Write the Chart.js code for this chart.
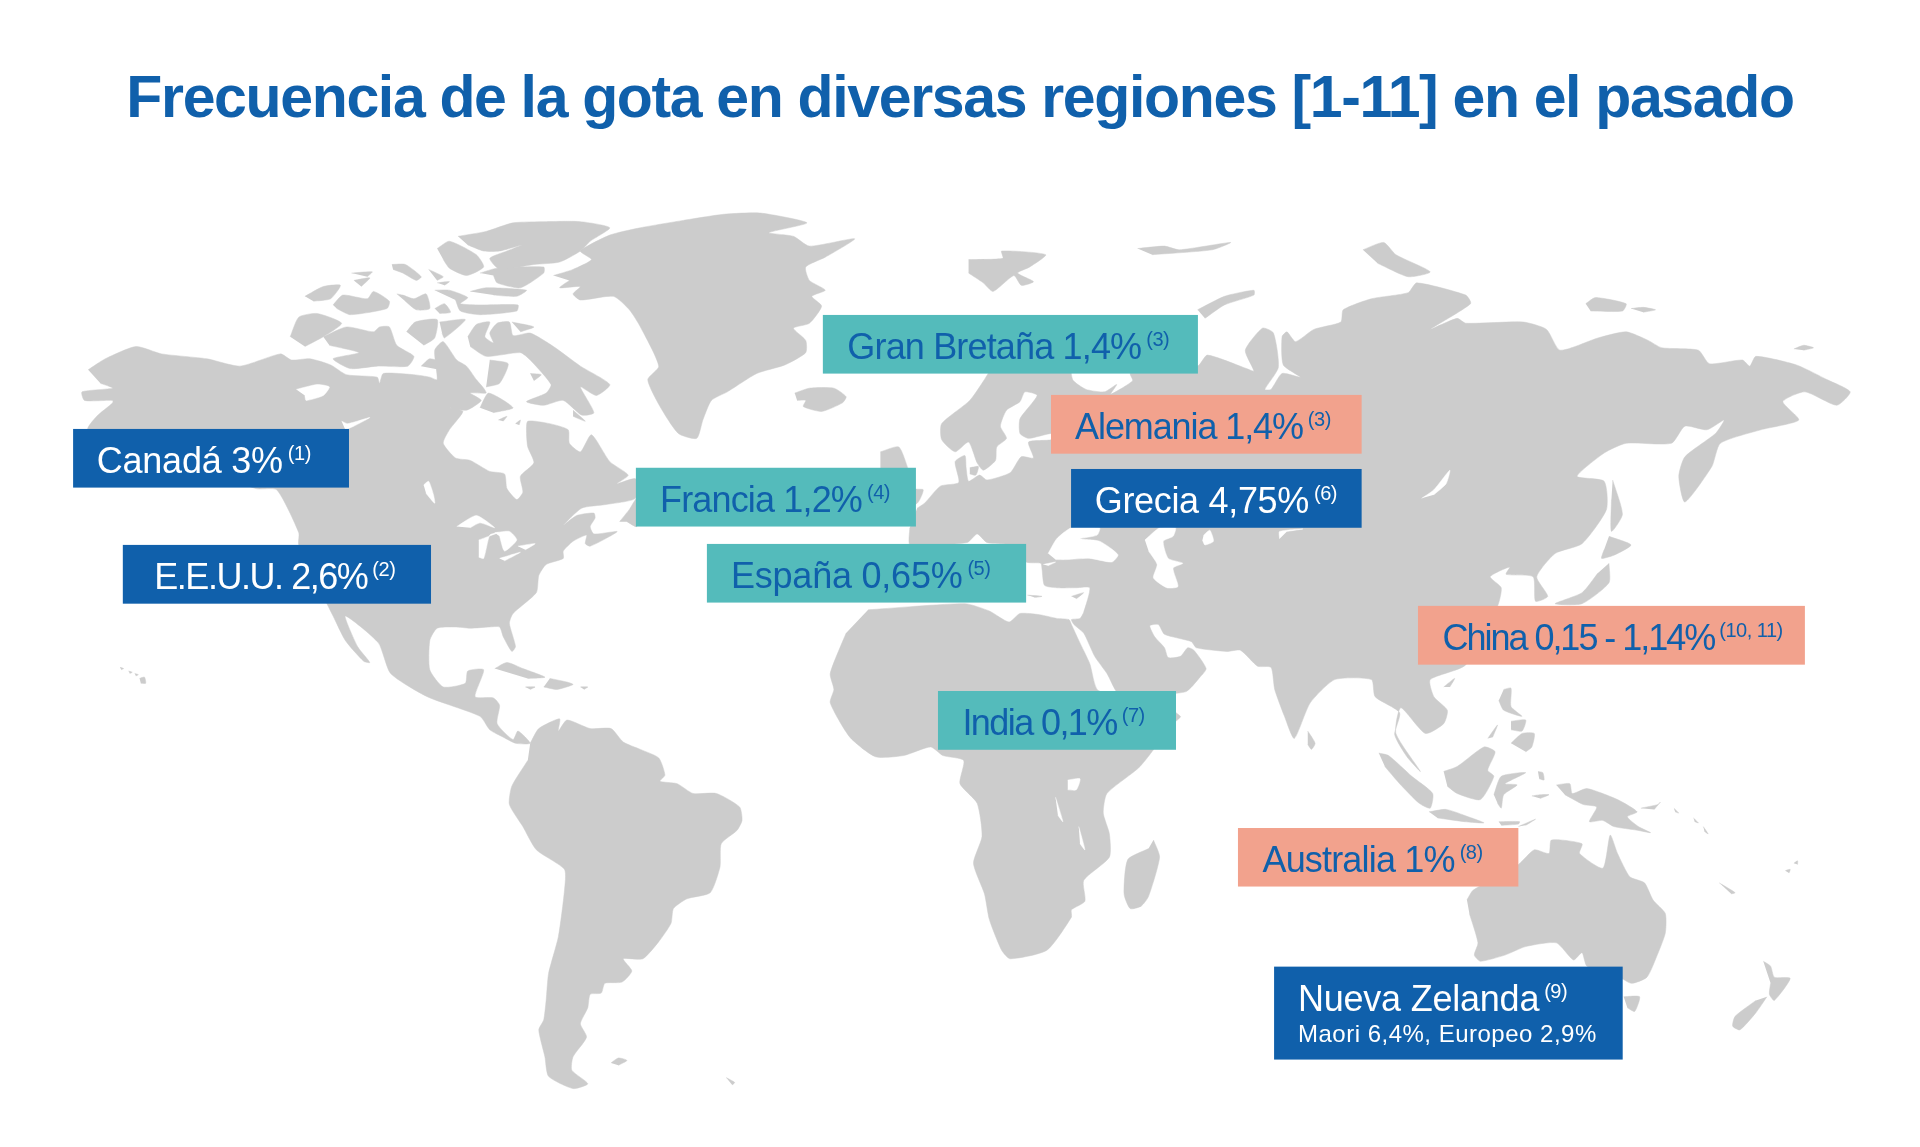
<!DOCTYPE html>
<html>
<head>
<meta charset="utf-8">
<title>Frecuencia de la gota</title>
<script src="https://cdn.jsdelivr.net/npm/chart.js@4"></script>
<style>
  html, body { margin: 0; padding: 0; background: #fff; }
  canvas { display: block; }
</style>
</head>
<body>
<canvas id="mapChart" width="1920" height="1147"></canvas>
<script>
// labels
const chartTitle = 'Frecuencia de la gota en diversas regiones [1-11] en el pasado';
const regionNames = ['Canadá', 'E.E.U.U.', 'Gran Bretaña', 'Alemania', 'Francia', 'Grecia', 'España', 'China', 'India', 'Australia', 'Nueva Zelanda'];
const regionRates = ['3%', '2,6%', '1,4%', '1,4%', '1,2%', '4,75%', '0,65%', '0,15 - 1,14%', '0,1%', '1%', ''];
const regionRefs = ['(1)', '(2)', '(3)', '(3)', '(4)', '(6)', '(5)', '(10, 11)', '(7)', '(8)', '(9)'];
const maoriLine = 'Maori 6,4%, Europeo 2,9%';

// map outlines, in map units
const northAmerica = [[72,302],[86,293],[111,283],[132,289],[169,293],[196,299],[229,289],[238,294],[253,293],[270,298],[283,306],[308,308],[310,313],[313,305],[338,306],[351,308],[357,310],[355,286],[362,279],[373,294],[381,299],[389,310],[395,317],[397,321],[384,321],[393,327],[381,335],[367,333],[378,336],[367,351],[362,362],[372,374],[384,376],[400,385],[412,387],[414,399],[422,408],[427,402],[425,389],[436,378],[431,365],[430,354],[431,344],[449,346],[464,351],[465,362],[474,369],[483,355],[498,377],[513,388],[504,395],[519,391],[519,407],[495,412],[475,415],[460,429],[471,421],[485,419],[486,423],[482,430],[485,436],[504,434],[498,438],[482,446],[478,444],[479,437],[468,442],[460,450],[460,456],[446,461],[440,470],[438,484],[419,501],[416,509],[421,528],[418,532],[411,520],[408,512],[400,512],[384,513],[372,512],[357,513],[351,523],[351,547],[362,561],[380,558],[382,548],[395,547],[388,569],[403,570],[408,576],[406,591],[419,604],[423,597],[433,607],[421,607],[411,602],[400,596],[392,585],[349,569],[319,550],[309,525],[282,503],[292,528],[302,541],[297,540],[282,523],[272,503],[267,493],[244,445],[244,435],[226,400],[209,399],[72,351],[79,340],[92,329],[92,327],[69,327],[67,320],[92,317],[82,313]];
const newfoundland = [[506,426],[514,416],[520,407],[520,430],[512,426]];
const baffin = [[382,275],[389,265],[400,263],[396,275],[403,280],[400,272],[406,264],[416,263],[419,274],[433,272],[452,283],[474,299],[498,314],[487,323],[474,316],[485,337],[475,339],[460,327],[444,331],[430,328],[446,321],[450,314],[433,294],[425,288],[397,291],[384,283]];
const bylot = [[418,263],[436,267],[425,271]];
const foxeIsland = [[433,305],[442,306],[436,311]];
const baffinTail = [[468,335],[478,344],[468,340]];
const victoriaIsland = [[264,275],[283,267],[305,271],[310,267],[318,267],[324,282],[338,291],[333,299],[308,299],[286,301],[272,293],[293,288],[269,282]];
const banksIsland = [[237,275],[244,259],[259,256],[279,264],[264,275],[249,283]];
const princeWales = [[332,271],[339,263],[357,261],[355,276],[346,282]];
const somerset = [[359,263],[380,261],[363,276],[361,272]];
const kingWilliam = [[344,299],[351,293],[363,297],[359,302]];
const southampton = [[392,333],[399,321],[419,333],[403,337]];
const melvillePen = [[400,294],[415,297],[408,313],[397,316]];
const coats = [[407,343],[414,340],[411,344]];
const mansel = [[421,346],[425,343],[424,347]];
const parryA = [[249,242],[264,234],[278,233],[270,244],[256,246]];
const melvilleIs = [[272,249],[280,241],[300,244],[305,238],[318,246],[316,252],[286,257],[275,252]];
const ellefA = [[287,223],[304,222],[300,226]];
const ellefB = [[289,229],[302,227],[295,234]];
const amundA = [[320,216],[331,216],[344,226],[340,229],[329,223],[321,220]];
const amundB = [[350,220],[362,226],[357,229]];
const amundC = [[357,231],[367,230],[363,233]];
const bathurst = [[324,240],[329,241],[338,244],[348,240],[351,252],[340,253],[331,246]];
const devon = [[355,237],[367,237],[382,243],[376,248],[392,249],[423,249],[422,254],[392,257],[376,254],[372,245]];
const cornwallis = [[355,252],[363,248],[368,255],[359,256]];
const ellesmereNorth = [[374,193],[397,189],[419,182],[446,181],[474,181],[498,186],[482,197],[474,205],[457,214],[436,216],[408,220],[400,211],[414,205],[426,200],[408,205],[395,205],[382,200]];
const axelHeiberg = [[357,203],[367,197],[389,208],[395,218],[381,225],[367,219],[362,212]];
const ellesmereMid = [[392,223],[406,219],[444,218],[444,223],[425,235],[406,231],[403,225]];
const ellesmereLow = [[384,238],[397,235],[430,237],[422,242],[403,241]];
const greenland = [[452,225],[468,220],[483,212],[474,205],[498,192],[523,186],[558,180],[591,175],[621,174],[659,182],[628,190],[648,193],[661,201],[698,195],[674,210],[658,218],[661,229],[674,237],[663,242],[671,250],[661,264],[648,268],[658,278],[658,288],[641,298],[618,305],[594,320],[581,327],[574,343],[569,358],[554,354],[539,332],[529,310],[538,299],[523,267],[514,253],[501,242],[474,245],[468,240],[474,234],[457,235],[465,229]];
const iceland = [[649,321],[661,317],[681,317],[691,324],[688,329],[671,336],[656,332],[658,327],[651,327]];
const svalbard = [[791,212],[819,211],[818,205],[854,208],[841,218],[831,223],[844,230],[834,233],[828,225],[811,238],[803,231],[791,223]];
const franzJosef = [[929,203],[951,201],[963,204],[1005,198],[990,204],[941,208]];
const severnaya = [[1113,204],[1130,198],[1140,208],[1168,222],[1150,226],[1125,215]];
const novayaZemlya = [[978,253],[1000,242],[1024,237],[1024,241],[1000,249],[984,260]];
const greatBritain = [[719,369],[734,365],[742,384],[747,399],[754,400],[749,411],[725,420],[719,400]];
const zealand = [[792,382],[799,381],[797,388],[792,387]];
const eurasia = [[749,415],[755,411],[768,397],[783,394],[780,377],[788,372],[789,382],[791,393],[800,388],[806,392],[825,386],[834,373],[844,374],[840,361],[859,359],[859,354],[840,358],[833,354],[833,342],[847,323],[837,320],[833,328],[822,335],[817,348],[822,358],[814,365],[813,376],[803,384],[798,378],[791,361],[780,369],[769,359],[769,346],[792,327],[807,305],[820,280],[870,280],[876,310],[887,318],[902,320],[912,314],[907,322],[925,311],[923,305],[935,290],[960,290],[978,299],[986,290],[1018,301],[1024,303],[1017,286],[1031,268],[1040,272],[1044,300],[1033,318],[1038,318],[1047,305],[1062,308],[1048,298],[1047,275],[1051,271],[1058,279],[1073,269],[1095,263],[1097,253],[1120,244],[1150,239],[1157,231],[1197,241],[1201,248],[1168,269],[1190,260],[1197,264],[1244,263],[1263,269],[1274,286],[1305,276],[1328,271],[1346,278],[1357,284],[1387,286],[1396,297],[1423,294],[1429,299],[1434,291],[1467,298],[1492,310],[1511,320],[1500,331],[1474,320],[1456,328],[1469,343],[1438,351],[1405,362],[1398,381],[1376,410],[1371,389],[1376,373],[1401,354],[1408,343],[1394,351],[1376,348],[1365,362],[1328,362],[1310,370],[1288,389],[1310,393],[1312,416],[1292,444],[1270,452],[1255,471],[1264,487],[1254,491],[1252,471],[1230,469],[1233,463],[1217,471],[1226,480],[1223,495],[1197,543],[1168,555],[1171,569],[1182,580],[1179,591],[1164,599],[1144,578],[1140,599],[1160,630],[1149,618],[1139,600],[1143,582],[1123,569],[1120,555],[1090,555],[1070,574],[1057,603],[1049,585],[1041,563],[1038,545],[1027,544],[1013,531],[1002,532],[977,529],[973,524],[951,518],[946,510],[939,511],[943,520],[951,529],[954,537],[964,536],[970,529],[975,531],[985,546],[980,553],[968,565],[915,568],[904,550],[894,536],[885,517],[877,510],[875,506],[882,505],[885,500],[890,480],[879,480],[863,480],[853,478],[851,465],[850,460],[838,459],[825,445],[806,443],[798,436],[790,443],[760,445],[743,445],[743,431]];
const crete = [[839,486],[851,487],[845,488]];
const cyprus = [[875,487],[885,484],[879,489]];
const africa = [[709,498],[788,493],[808,499],[824,508],[833,501],[849,502],[863,505],[873,506],[875,510],[881,523],[890,542],[897,564],[940,570],[964,585],[958,591],[931,626],[904,648],[901,664],[906,681],[906,700],[885,719],[886,736],[875,743],[875,749],[855,776],[825,783],[818,776],[808,751],[804,730],[795,705],[802,683],[798,656],[784,640],[787,621],[770,617],[760,610],[738,617],[715,618],[694,602],[678,574],[681,563],[678,550],[691,517]];
const madagascar = [[942,686],[947,700],[938,732],[932,740],[923,742],[918,730],[921,702],[938,693]];
const sriLanka = [[1068,597],[1074,607],[1071,612],[1068,608]];
const southAmerica = [[433,607],[440,595],[457,587],[456,597],[463,588],[482,595],[499,595],[509,606],[523,612],[538,619],[543,633],[539,638],[553,640],[566,648],[585,648],[604,659],[606,670],[602,678],[589,689],[588,708],[580,729],[561,734],[550,742],[548,754],[538,769],[525,783],[509,783],[516,793],[508,802],[494,803],[491,811],[482,812],[480,823],[474,836],[479,847],[468,863],[467,874],[480,885],[468,889],[448,879],[445,863],[440,841],[444,833],[446,817],[448,795],[456,765],[461,727],[461,710],[438,694],[427,675],[416,657],[418,642],[431,621]];
const falklands = [[499,868],[505,864],[512,866],[505,870]];
const southGeorgia = [[593,880],[600,884],[598,886]];
const cuba = [[404,546],[414,541],[427,546],[445,553],[431,554]];
const hispaniola = [[449,554],[463,557],[468,559],[455,563],[444,561]];
const jamaica = [[429,561],[437,561],[433,563]];
const puertoRico = [[474,561],[480,561],[477,563]];
const hawaiiBig = [[114,554],[118,553],[119,558],[115,558]];
const hawaiiA = [[98,545],[101,546],[99,547]];
const hawaiiB = [[105,548],[108,549],[106,550]];
const hawaiiC = [[110,550],[113,551],[111,552]];
const sakhalin = [[1317,392],[1325,420],[1316,434],[1316,408]];
const hokkaido = [[1314,438],[1332,445],[1319,453],[1308,456],[1310,449]];
const honshu = [[1314,460],[1314,476],[1292,493],[1270,493],[1292,484],[1305,468]];
const taiwan = [[1179,561],[1188,554],[1184,561]];
const luzon = [[1228,563],[1234,562],[1234,577],[1243,585],[1228,580],[1224,572]];
const visayas = [[1234,589],[1246,588],[1243,597],[1234,596]];
const mindanao = [[1234,607],[1243,599],[1253,599],[1251,610],[1246,614]];
const palawan = [[1215,603],[1223,592],[1219,602]];
const sumatra = [[1126,615],[1134,617],[1153,634],[1170,648],[1168,660],[1159,656],[1143,640],[1131,626]];
const borneo = [[1179,630],[1190,626],[1212,610],[1221,614],[1215,629],[1220,634],[1209,653],[1190,648],[1182,642]];
const sulawesi = [[1220,649],[1226,634],[1246,631],[1229,640],[1239,641],[1228,649],[1226,660],[1223,656]];
const java = [[1167,663],[1181,661],[1199,667],[1212,672],[1196,671],[1174,668]];
const sunda = [[1224,671],[1241,671],[1240,673],[1226,674]];
const timor = [[1240,675],[1254,669],[1246,674]];
const halmahera = [[1256,630],[1260,631],[1261,637],[1257,636]];
const buru = [[1251,650],[1258,649],[1265,649],[1258,652]];
const newGuinea = [[1271,641],[1282,640],[1284,648],[1296,644],[1321,653],[1337,663],[1329,667],[1338,675],[1348,680],[1337,678],[1318,675],[1309,670],[1298,671],[1304,659],[1293,657],[1278,649]];
const newBritain = [[1340,660],[1354,657],[1356,655],[1351,661]];
const solomonA = [[1367,660],[1371,664],[1368,663]];
const solomonB = [[1383,668],[1387,672],[1384,671]];
const solomonC = [[1391,675],[1395,681],[1392,679]];
const newCaledonia = [[1404,721],[1417,729],[1414,730]];
const fijiA = [[1458,711],[1462,710],[1461,713]];
const fijiB = [[1465,705],[1468,703],[1468,706]];
const australia = [[1198,735],[1203,727],[1240,706],[1253,694],[1265,697],[1267,686],[1292,689],[1290,697],[1309,709],[1315,682],[1321,697],[1331,716],[1343,721],[1350,735],[1360,746],[1360,762],[1353,781],[1345,798],[1332,803],[1315,793],[1296,789],[1292,778],[1285,784],[1271,770],[1246,773],[1229,780],[1209,785],[1204,780],[1207,770],[1200,746]];
const tasmania = [[1326,814],[1339,814],[1335,826],[1329,823]];
const nzNorth = [[1440,785],[1446,789],[1449,798],[1462,799],[1449,817],[1445,812],[1446,803]];
const nzSouth = [[1443,814],[1434,827],[1421,841],[1415,838],[1417,830],[1434,817]];
const wrangel = [[1465,285],[1473,282],[1481,284],[1473,286]];
const newSiberia = [[1295,248],[1303,243],[1328,248],[1325,254],[1299,254]];
const newSiberia2 = [[1332,252],[1342,251],[1352,253],[1342,255]];

// water inside the land
const greatBear = [[242,318],[259,314],[269,316],[264,323],[250,327],[249,323]];
const greatSlave = [[279,344],[284,346],[302,341],[289,348],[282,351]];
const winnipeg = [[346,396],[350,393],[354,404],[355,411],[348,403]];
const superior = [[373,430],[389,421],[404,431],[392,427],[384,431]];
const michigan = [[391,441],[407,435],[400,437],[395,456],[391,455]];
const huron = [[404,435],[416,434],[422,441],[412,450],[408,438]];
const erie = [[408,456],[425,451],[412,458]];
const ontario = [[423,446],[437,444],[429,449]];
const blackSea = [[856,452],[863,440],[875,431],[898,431],[896,437],[882,440],[898,442],[913,453],[908,459],[890,456],[871,457],[862,457]];
const marmara = [[852,461],[862,459],[856,462]];
const caspian = [[935,441],[947,431],[960,431],[958,438],[950,442],[954,456],[966,460],[958,464],[962,479],[953,480],[942,472],[945,461],[938,450]];
const aral = [[983,437],[988,433],[991,442],[984,445],[982,441]];
const balkhash = [[1045,440],[1045,434],[1064,432],[1051,434]];
const baikal = [[1161,407],[1171,400],[1184,384],[1181,395],[1171,404]];
const victoriaLake = [[872,637],[882,636],[879,645],[872,645]];
const tanganyika = [[862,651],[868,671],[864,666]];
const malawi = [[881,675],[886,694],[882,689]];

const landShapes = [northAmerica, newfoundland, baffin, bylot, foxeIsland, baffinTail, victoriaIsland, banksIsland, princeWales, somerset, kingWilliam, southampton, melvillePen, coats, mansel, parryA, melvilleIs, ellefA, ellefB, amundA, amundB, amundC, bathurst, devon, cornwallis, ellesmereNorth, axelHeiberg, ellesmereMid, ellesmereLow, greenland, iceland, svalbard, franzJosef, severnaya, novayaZemlya, greatBritain, zealand, eurasia, crete, cyprus, africa, madagascar, sriLanka, southAmerica, falklands, southGeorgia, cuba, hispaniola, jamaica, puertoRico, hawaiiBig, hawaiiA, hawaiiB, hawaiiC, sakhalin, hokkaido, honshu, taiwan, luzon, visayas, mindanao, palawan, sumatra, borneo, sulawesi, java, sunda, timor, halmahera, buru, newGuinea, newBritain, solomonA, solomonB, solomonC, newCaledonia, fijiA, fijiB, australia, tasmania, nzNorth, nzSouth, wrangel, newSiberia, newSiberia2];
const waterShapes = [greatBear, greatSlave, winnipeg, superior, michigan, huron, erie, ontario, blackSea, marmara, caspian, aral, balkhash, baikal, victoriaLake, tanganyika, malawi];

// label layout, same order as regionNames: left, top, right, bottom, text left, text right
const labelBoxes = [[59.7,350.3,285,398.2,79,231],[100.3,445,352,493,126,300],[672,257.2,978.3,305.1,692,932],[858.3,322.5,1112,370.5,878,1064],[519.3,382,748,430,539,704],[874.7,383,1112,431,894,1069],[577.3,444.2,838,492.1,597,786],[1158,494.8,1474,542.8,1178,1400],[766,564.3,960.4,612.3,786,912],[1011,676.2,1240,724,1031,1188],[1040.5,789.4,1325.2,865.3,1060,1257]];
const boxColors = ['#1060ab', '#1060ab', '#54bbbb', '#f2a28d', '#54bbbb', '#1060ab', '#54bbbb', '#f2a28d', '#54bbbb', '#f2a28d', '#1060ab'];
const textColors = ['#ffffff', '#ffffff', '#1060ab', '#1060ab', '#1060ab', '#ffffff', '#1060ab', '#1060ab', '#1060ab', '#1060ab', '#ffffff'];

const fontName = '"Liberation Sans"';

function shapeDataset(shape, colour) {
  return {
    data: shape.map(function (p) { return { x: p[0], y: p[1] }; }),
    showLine: true,
    fill: 'shape',
    backgroundColor: colour,
    borderColor: colour,
    borderWidth: 0.5,
    pointRadius: 0,
    pointHoverRadius: 0
  };
}

// squeeze a string so that it ends where the reference text ends
function fitText(ctx, text, x, y, endX) {
  ctx.letterSpacing = '0px';
  const natural = ctx.measureText(text).width;
  ctx.letterSpacing = ((endX - x - natural) / text.length) + 'px';
  ctx.fillText(text, x, y);
  ctx.letterSpacing = '0px';
}

const labelPlugin = {
  id: 'regionLabels',
  beforeDraw: function (chart) {
    chart.ctx.letterSpacing = '-1.35px';
  },
  afterDatasetsDraw: function (chart) {
    const ctx = chart.ctx;
    const xs = chart.scales.x;
    const ys = chart.scales.y;
    ctx.save();
    ctx.textBaseline = 'alphabetic';
    regionNames.forEach(function (name, i) {
      const b = labelBoxes[i];
      const left = xs.getPixelForValue(b[0]);
      const top = ys.getPixelForValue(b[1]);
      ctx.fillStyle = boxColors[i];
      ctx.fillRect(left, top, xs.getPixelForValue(b[2]) - left, ys.getPixelForValue(b[3]) - top);

      const tx = xs.getPixelForValue(b[4]);
      const end = xs.getPixelForValue(b[5]);
      const base = ys.getPixelForValue(b[1] + 36);
      const text = regionRates[i] ? name + ' ' + regionRates[i] : name;
      ctx.fillStyle = textColors[i];
      ctx.font = '36px ' + fontName;
      fitText(ctx, text, tx, base, end);
      ctx.font = '20px ' + fontName;
      ctx.letterSpacing = '-0.5px';
      ctx.fillText(regionRefs[i], end + 5, base - 13);
      ctx.letterSpacing = '0px';
      if (name === 'Nueva Zelanda') {
        ctx.font = '24px ' + fontName;
        fitText(ctx, maoriLine, tx, ys.getPixelForValue(850.6), xs.getPixelForValue(1304));
      }
    });
    ctx.restore();
  }
};

new Chart(document.getElementById('mapChart').getContext('2d'), {
  type: 'scatter',
  data: {
    // first dataset is painted last, so water goes before land
    datasets: waterShapes.map(function (s) { return shapeDataset(s, '#ffffff'); })
      .concat(landShapes.map(function (s) { return shapeDataset(s, '#cccccc'); }))
  },
  options: {
    responsive: false,
    animation: false,
    devicePixelRatio: 1,
    events: [],
    layout: { padding: 0 },
    elements: { line: { tension: 0.2 } },
    scales: {
      x: { type: 'linear', min: 0, max: 1568, display: false },
      y: { type: 'linear', min: 122.5, max: 936.7, reverse: true, display: false }
    },
    plugins: {
      legend: { display: false },
      tooltip: { enabled: false },
      title: {
        display: true,
        text: chartTitle,
        color: '#1060ab',
        font: { family: fontName, size: 59, weight: 'bold', lineHeight: 1.2 },
        padding: { top: 65, bottom: 14.2 }
      }
    }
  },
  plugins: [labelPlugin]
});
</script>
</body>
</html>
